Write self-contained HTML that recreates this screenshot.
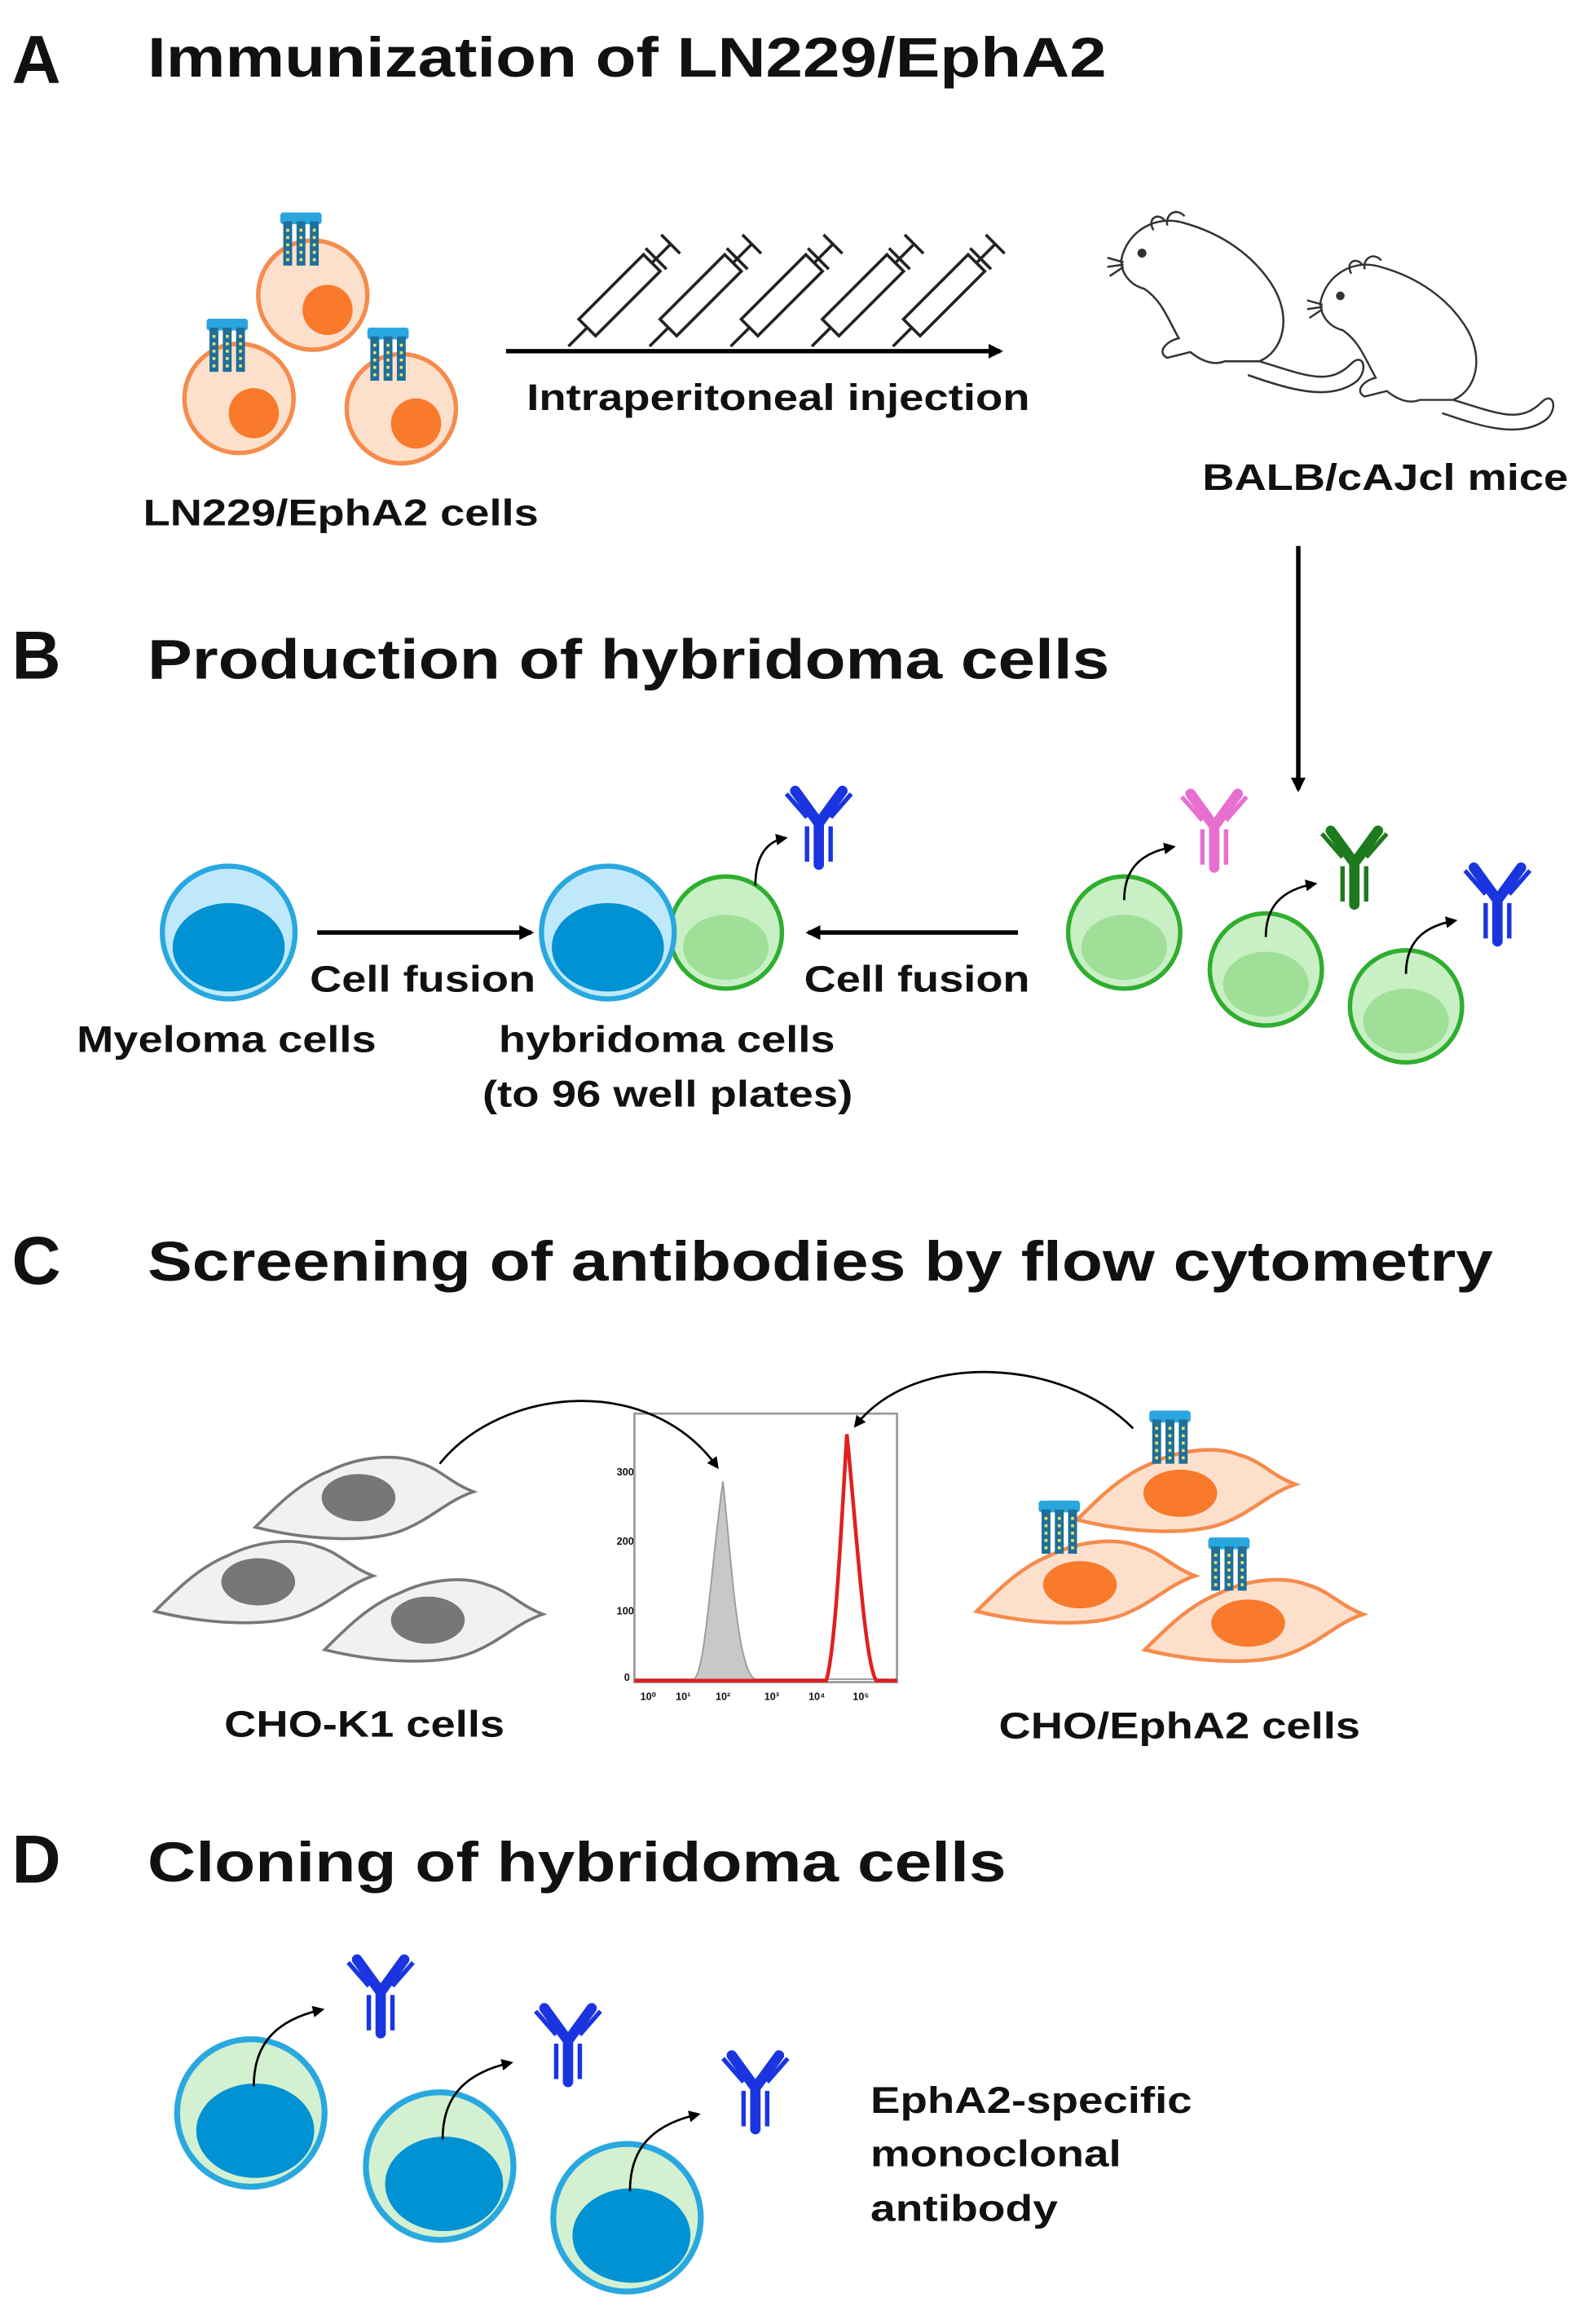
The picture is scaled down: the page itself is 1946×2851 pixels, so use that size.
<!DOCTYPE html>
<html><head><meta charset="utf-8"><style>
html,body{margin:0;padding:0;background:#fff}
svg{display:block}
text{font-family:"Liberation Sans",Arial,sans-serif;font-weight:bold;fill:#111}
</style></head><body>
<svg width="1946" height="2851" viewBox="0 0 1075 1575" xmlns="http://www.w3.org/2000/svg">
<defs>
<marker id="ah" markerWidth="10" markerHeight="10" refX="8" refY="5" orient="auto" markerUnits="userSpaceOnUse"><path d="M0,0 L10,5 L0,10 z" fill="#000"/></marker>
<marker id="sh" markerWidth="8" markerHeight="8" refX="6" refY="4" orient="auto" markerUnits="userSpaceOnUse"><path d="M0,0 L8,4 L0,8 z" fill="#000"/></marker>
<g id="ab">
<path d="M0,0 L0,28 M0,0 L-16,-22 M0,0 L16,-22" stroke="currentColor" stroke-width="7" fill="none" stroke-linecap="round"/>
<path d="M-8,2 L-8,26 M8,2 L8,26 M-8,-4 L-22,-20 M8,-4 L22,-20" stroke="currentColor" stroke-width="3" fill="none"/>
</g>
<g id="rec">
<rect x="-14" y="-16" width="28" height="8" rx="2" fill="#2aa6df"/>
<rect x="-12" y="-10" width="6" height="30" fill="#1f6f9a"/>
<rect x="-3" y="-10" width="6" height="30" fill="#1f6f9a"/>
<rect x="6" y="-10" width="6" height="30" fill="#1f6f9a"/>
<path d="M-9,-5 v22 M0,-5 v22 M9,-5 v22" stroke="#e8e26a" stroke-width="2" stroke-dasharray="2,3"/>
</g>
<g id="ocell"><circle r="37" fill="#fde0cc" stroke="#f58b4c" stroke-width="3"/><circle cx="10" cy="10" r="17" fill="#f97a2a"/></g>
<g id="gcell"><circle r="38" fill="#c9efc5" stroke="#2fae2f" stroke-width="3"/><ellipse cx="0" cy="10" rx="29" ry="22" fill="#9fdf97"/></g>
<g id="bcell"><circle r="45" fill="#bfe9fa" stroke="#29a8e0" stroke-width="3.5"/><ellipse cx="0" cy="10" rx="38" ry="30" fill="#0092d2"/></g>
<g id="dcell"><circle r="50" fill="#d3f0d0" stroke="#29a8e0" stroke-width="4"/><ellipse cx="3" cy="12" rx="40" ry="32" fill="#0092d2"/></g>
<g id="syr"><g transform="rotate(-45)">
<rect x="0" y="-8" width="62" height="16" fill="#fff" stroke="#222" stroke-width="2"/>
<line x1="-18" y1="0" x2="0" y2="0" stroke="#222" stroke-width="2"/>
<line x1="62" y1="0" x2="80" y2="0" stroke="#222" stroke-width="2"/>
<line x1="80" y1="-9" x2="80" y2="9" stroke="#222" stroke-width="2"/>
<line x1="66" y1="-10" x2="66" y2="10" stroke="#222" stroke-width="2"/>
</g></g>
<g id="gcho"><path d="M-70,20 C-55,5 -40,-10 -20,-18 C0,-28 25,-30 40,-24 C55,-20 62,-10 78,-4 C60,2 50,14 30,22 C10,30 -30,30 -70,20 z" fill="#f1f1f1" stroke="#777" stroke-width="2"/><ellipse cx="0" cy="0" rx="25" ry="16" fill="#777"/></g>
<g id="ocho"><path d="M-70,20 C-55,5 -40,-10 -20,-18 C0,-28 25,-30 40,-24 C55,-20 62,-10 78,-4 C60,2 50,14 30,22 C10,30 -30,30 -70,20 z" fill="#fde0cc" stroke="#f58b4c" stroke-width="2.5"/><ellipse cx="0" cy="2" rx="25" ry="16" fill="#f97a2a"/></g>
<g id="mouse" fill="none" stroke="#333" stroke-width="1.8">
<path d="M0,40 C5,15 30,0 55,8 C80,15 110,30 130,60 C150,90 140,120 120,128 L90,128 C80,132 70,128 60,120 L40,125 C30,120 40,110 50,108 C40,90 35,75 20,65 C8,62 0,52 0,40 z"/>
<path d="M40,10 C38,0 48,-6 55,2"/><path d="M28,14 C22,4 32,-2 38,6"/>
<circle cx="18" cy="34" r="3" fill="#333"/>
<path d="M2,42 l-14,-4 M2,44 l-14,2 M2,46 l-12,8"/>
<path d="M120,128 C160,140 180,150 200,130 C210,120 215,135 205,145 C180,165 140,150 110,140"/>
</g>
</defs>

<!-- A -->
<text x="8" y="56" font-size="46">A</text>
<text x="100" y="52" font-size="38" textLength="650" lengthAdjust="spacingAndGlyphs">Immunization of LN229/EphA2</text>
<use href="#ocell" x="212" y="200"/><use href="#ocell" x="162" y="270"/><use href="#ocell" x="272" y="277"/>
<use href="#rec" x="204" y="160"/><use href="#rec" x="154" y="232"/><use href="#rec" x="263" y="238"/>
<line x1="343" y1="238" x2="678" y2="238" stroke="#000" stroke-width="3" marker-end="url(#ah)"/>
<use href="#syr" x="398" y="222"/><use href="#syr" x="453" y="222"/><use href="#syr" x="508" y="222"/><use href="#syr" x="563" y="222"/><use href="#syr" x="618" y="222"/>
<text x="357" y="278" font-size="25" textLength="341" lengthAdjust="spacingAndGlyphs">Intraperitoneal injection</text>
<text x="97" y="356" font-size="25" textLength="268" lengthAdjust="spacingAndGlyphs">LN229/EphA2 cells</text>
<g transform="translate(760,145) scale(0.78)"><use href="#mouse"/></g>
<g transform="translate(895,175) scale(0.75)"><use href="#mouse"/></g>
<text x="815" y="332" font-size="25" textLength="248" lengthAdjust="spacingAndGlyphs">BALB/cAJcl mice</text>
<line x1="880" y1="370" x2="880" y2="535" stroke="#000" stroke-width="3" marker-end="url(#ah)"/>

<!-- B -->
<text x="8" y="460" font-size="46">B</text>
<text x="100" y="460" font-size="38" textLength="652" lengthAdjust="spacingAndGlyphs">Production of hybridoma cells</text>
<use href="#bcell" x="155" y="632"/>
<line x1="215" y1="632" x2="360" y2="632" stroke="#000" stroke-width="3" marker-end="url(#ah)"/>
<text x="210" y="672" font-size="25" textLength="153" lengthAdjust="spacingAndGlyphs">Cell fusion</text>
<use href="#gcell" x="492" y="632"/>
<use href="#bcell" x="412" y="632"/>
<path d="M512,600 C512,580 520,570 532,568" stroke="#000" stroke-width="1.5" fill="none" marker-end="url(#sh)"/>
<use href="#ab" x="555" y="558" color="#1a35e0"/>
<line x1="690" y1="632" x2="548" y2="632" stroke="#000" stroke-width="3" marker-end="url(#ah)"/>
<text x="545" y="672" font-size="25" textLength="153" lengthAdjust="spacingAndGlyphs">Cell fusion</text>
<use href="#gcell" x="762" y="632"/><use href="#gcell" x="858" y="657"/><use href="#gcell" x="953" y="682"/>
<path d="M762,610 C762,590 772,578 795,574" stroke="#000" stroke-width="1.5" fill="none" marker-end="url(#sh)"/>
<path d="M858,635 C858,615 868,603 891,599" stroke="#000" stroke-width="1.5" fill="none" marker-end="url(#sh)"/>
<path d="M953,660 C953,640 963,628 986,624" stroke="#000" stroke-width="1.5" fill="none" marker-end="url(#sh)"/>
<use href="#ab" x="823" y="560" color="#e86fd0"/>
<use href="#ab" x="918" y="585" color="#1e7a1e"/>
<use href="#ab" x="1015" y="610" color="#1a35e0"/>
<text x="52" y="713" font-size="25" textLength="203" lengthAdjust="spacingAndGlyphs">Myeloma cells</text>
<text x="338" y="713" font-size="25" textLength="228" lengthAdjust="spacingAndGlyphs">hybridoma cells</text>
<text x="327" y="750" font-size="25" textLength="251" lengthAdjust="spacingAndGlyphs">(to 96 well plates)</text>

<!-- C -->
<text x="8" y="870" font-size="46">C</text>
<text x="100" y="868" font-size="38" textLength="912" lengthAdjust="spacingAndGlyphs">Screening of antibodies by flow cytometry</text>
<use href="#gcho" x="243" y="1015"/><use href="#gcho" x="175" y="1072"/><use href="#gcho" x="290" y="1098"/>
<use href="#ocho" x="800" y="1010"/><use href="#ocho" x="732" y="1072"/><use href="#ocho" x="846" y="1098"/>
<use href="#rec" x="793" y="972"/><use href="#rec" x="718" y="1033"/><use href="#rec" x="833" y="1058"/>
<rect x="430" y="958" width="178" height="182" fill="#fff" stroke="#999" stroke-width="1.5"/>
<path d="M430,1138 L470,1138 C478,1136 482,1060 490,1004 C496,1060 500,1134 512,1138 L608,1138" fill="#c8c8c8" stroke="#999" stroke-width="1"/>
<path d="M430,1139 L560,1139 C566,1120 570,1040 574,972 C580,1030 586,1128 594,1139 L608,1139" fill="none" stroke="#e02020" stroke-width="2.5"/>
<g font-size="7" fill="#444" style="font-weight:normal">
<text x="418" y="1000">300</text><text x="418" y="1047">200</text><text x="418" y="1094">100</text><text x="423" y="1139">0</text>
<text x="434" y="1152">10⁰</text><text x="458" y="1152">10¹</text><text x="485" y="1152">10²</text><text x="518" y="1152">10³</text><text x="548" y="1152">10⁴</text><text x="578" y="1152">10⁵</text>
</g>
<path d="M298,992 C340,940 440,930 486,994" stroke="#000" stroke-width="1.5" fill="none" marker-end="url(#sh)"/>
<path d="M768,968 C720,920 620,915 580,966" stroke="#000" stroke-width="1.5" fill="none" marker-end="url(#sh)"/>
<text x="152" y="1177" font-size="25" textLength="190" lengthAdjust="spacingAndGlyphs">CHO-K1 cells</text>
<text x="677" y="1178" font-size="25" textLength="245" lengthAdjust="spacingAndGlyphs">CHO/EphA2 cells</text>

<!-- D -->
<text x="8" y="1276" font-size="46">D</text>
<text x="100" y="1275" font-size="38" textLength="582" lengthAdjust="spacingAndGlyphs">Cloning of hybridoma cells</text>
<use href="#dcell" x="170" y="1432"/><use href="#dcell" x="298" y="1468"/><use href="#dcell" x="425" y="1503"/>
<path d="M172,1414 C172,1390 182,1370 218,1362" stroke="#000" stroke-width="1.5" fill="none" marker-end="url(#sh)"/>
<path d="M300,1450 C300,1426 310,1406 346,1398" stroke="#000" stroke-width="1.5" fill="none" marker-end="url(#sh)"/>
<path d="M427,1485 C427,1461 437,1441 473,1433" stroke="#000" stroke-width="1.5" fill="none" marker-end="url(#sh)"/>
<use href="#ab" x="258" y="1350" color="#1a35e0"/>
<use href="#ab" x="385" y="1383" color="#1a35e0"/>
<use href="#ab" x="512" y="1415" color="#1a35e0"/>
<text x="590" y="1432" font-size="25" textLength="218" lengthAdjust="spacingAndGlyphs">EphA2-specific</text>
<text x="590" y="1468" font-size="25" textLength="170" lengthAdjust="spacingAndGlyphs">monoclonal</text>
<text x="590" y="1505" font-size="25" textLength="127" lengthAdjust="spacingAndGlyphs">antibody</text>
</svg>
</body></html>
